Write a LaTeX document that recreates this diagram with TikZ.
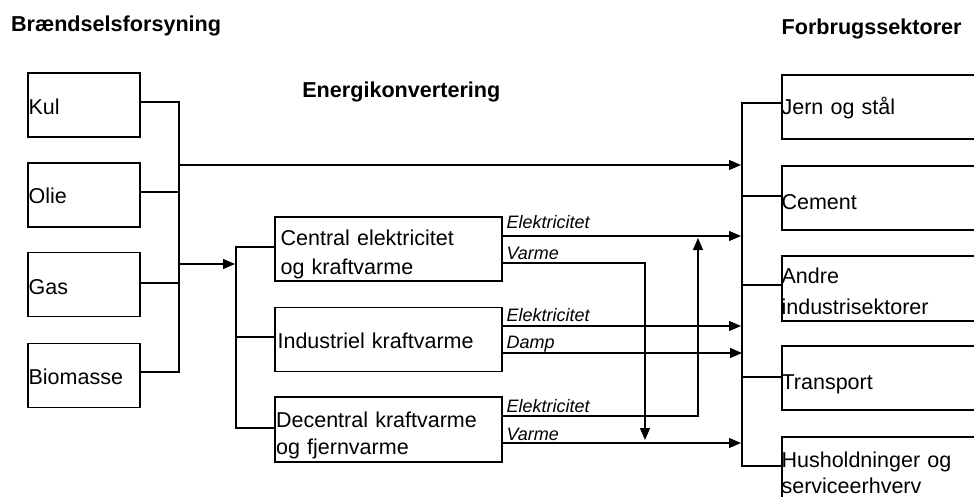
\documentclass[tikz,border=0pt]{standalone}
\usepackage{fontspec}
\setmainfont{Liberation Sans}
\usetikzlibrary{arrows.meta}
\begin{document}
\begin{tikzpicture}[x=1pt,y=-1pt,line width=1.2pt,
  box/.style={draw,rectangle,inner sep=0pt},
  lbox/.style={box,minimum width=112pt,minimum height=64pt},
  mbox/.style={box,minimum width=227pt,minimum height=64pt},
  rbox/.style={box,minimum width=218pt,minimum height=64pt},
  txt/.style={anchor=base west,inner sep=0pt,align=left,text width=220pt,font=\fontsize{21.5}{29}\selectfont},
  head/.style={font=\fontsize{21.6}{26}\selectfont\bfseries,inner sep=0pt,anchor=base west},
  flow/.style={font=\fontsize{18}{22}\selectfont\itshape,inner sep=0pt,anchor=base west},
  arr/.style={-{Triangle[length=12pt,width=10pt]}}]
\useasboundingbox (0,0) rectangle (974,497);
\clip (0,0) rectangle (974,497);

% headings
\node[head] (h1) at (10.5,31.7) {Brændselsforsyning};
\node[head] (h2) at (301.7,97.3) {Energikonvertering};
\node[head] (h3) at (781,35) {Forbrugssektorer};

% fuel boxes
\node[lbox] (kul)  at (84,105)   {};
\node[lbox] (olie) at (84,195)   {};
\node[lbox] (gas)  at (84,284.5) {};
\node[lbox] (bio)  at (84,375.5) {};
\node[txt] (kulT)  at (28,115) {Kul};
\node[txt] (olieT) at (28,204) {Olie};
\node[txt] (gasT)  at (28,294) {Gas};
\node[txt] (bioT)  at (28,384) {Biomasse};

% conversion boxes
\node[mbox] (cen) at (388.5,249) {};
\node[mbox] (ind) at (388.5,339.5) {};
\node[mbox,minimum height=65pt] (dec) at (388.5,429.5) {};
\node[txt] (cenT) at (280,245) {Central elektricitet\\og kraftvarme};
\node[txt] (indT) at (277,348) {Industriel kraftvarme};
\node[txt] (decT) at (275.5,427) {Decentral kraftvarme\\[-1.5pt]og fjernvarme};

% sector boxes
\node[rbox] (jern)  at (891,107)   {};
\node[rbox] (cem)   at (891,198)   {};
\node[rbox,minimum height=65pt] (andre) at (891,288.5) {};
\node[rbox] (trans) at (891,378)   {};
\node[rbox,minimum height=72pt] (hus) at (891,473) {};
\node[txt] (jernT)  at (781,115) {Jern og stål};
\node[txt] (cemT)   at (781,209) {Cement};
\node[txt] (andreT) at (781,283) {Andre\\[2pt]industrisektorer};
\node[txt] (transT) at (781,389) {Transport};
\node[txt] (husT)   at (781,467) {Husholdninger og\\[-3pt]serviceerhverv};

% left bus
\coordinate (lbT) at (179,102);
\coordinate (lbO) at (179,192);
\coordinate (lbG) at (179,283);
\coordinate (lbB) at (179,372);
\coordinate (lbU) at (179,165);
\coordinate (lbM) at (179,264);
\draw (kul.east |- lbT) -- (lbT) -- (lbB) -- (bio.east |- lbB);
\draw (olie.east |- lbO) -- (lbO);
\draw (gas.east |- lbG) -- (lbG);

% middle bus
\coordinate (mbA) at (235,264);
\coordinate (mbT) at (236,247);
\coordinate (mbI) at (236,337);
\coordinate (mbB) at (236,428);
\draw[arr] (lbM) -- (mbA);
\draw (cen.west |- mbT) -- (mbT) -- (mbB) -- (dec.west |- mbB);
\draw (mbI) -- (ind.west |- mbI);

% right bus
\coordinate (rbT) at (742,103);
\coordinate (rbC) at (742,196);
\coordinate (rbA) at (742,285);
\coordinate (rbR) at (742,377);
\coordinate (rbB) at (742,466);
\draw (jern.west |- rbT) -- (rbT) -- (rbB) -- (hus.west |- rbB);
\draw (rbC) -- (cem.west |- rbC);
\draw (rbA) -- (andre.west |- rbA);
\draw (rbR) -- (trans.west |- rbR);

% direct fuel flow
\coordinate (rbU) at (741,165);
\draw[arr] (lbU) -- (rbU);

% outputs
\coordinate (ce) at (741,236);
\coordinate (cv1) at (645,263);
\coordinate (cv2) at (645,440);
\coordinate (ie) at (741,326);
\coordinate (id) at (742,353);
\coordinate (de1) at (698,416);
\coordinate (de2) at (698,238);
\coordinate (dv) at (741,443);
\draw[arr] (cen.east |- ce) -- (ce);
\draw[arr] (cen.east |- cv1) -- (cv1) -- (cv2);
\draw[arr] ([xshift=-2pt]ind.east |- ie) -- (ie);
\draw[arr] (ind.east |- id) -- (id);
\draw[arr] (dec.east |- de1) -- (de1) -- (de2);
\draw[arr] (dec.east |- dv) -- (dv);

% flow labels
\node[flow] (l1) at (506,228) {Elektricitet};
\node[flow] (l2) at (506,259) {Varme};
\node[flow] (l3) at (506,321) {Elektricitet};
\node[flow] (l4) at (506,348) {Damp};
\node[flow] (l5) at (506,412) {Elektricitet};
\node[flow] (l6) at (506,440) {Varme};
\end{tikzpicture}
\end{document}
